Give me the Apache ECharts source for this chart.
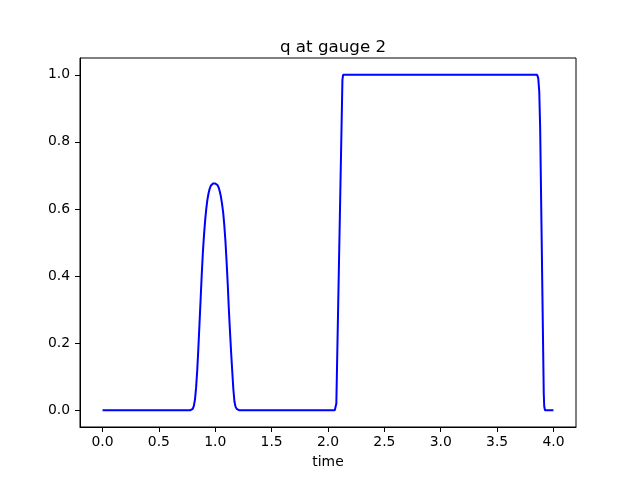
<!DOCTYPE html>
<html><head><meta charset="utf-8">
<script src="https://cdn.jsdelivr.net/npm/echarts@6/dist/echarts.min.js"></script>
<style>html,body{margin:0;padding:0;background:#fff}#c{width:640px;height:480px}</style>
</head><body><div id="c"></div>
<script>
const titleText = 'q at gauge 2';
const xName = 'time';
const xTicks = [0, 0.5, 1.0, 1.5, 2.0, 2.5, 3.0, 3.5, 4.0];
const yTicks = [0, 0.2, 0.4, 0.6, 0.8, 1.0];
const tValues = [0.0, 0.5, 0.78, 0.79, 0.80, 0.81, 0.82, 0.83, 0.84, 0.85, 0.86, 0.87, 0.88, 0.89, 0.90, 0.91, 0.92, 0.93, 0.94, 0.95, 0.96, 0.97, 0.98, 0.99, 1.00, 1.01, 1.02, 1.03, 1.04, 1.05, 1.06, 1.07, 1.08, 1.09, 1.10, 1.11, 1.12, 1.13, 1.14, 1.15, 1.16, 1.17, 1.18, 1.19, 1.20, 1.21, 1.5, 2.06, 2.068, 2.074, 2.128, 2.134, 2.5, 3.0, 3.5, 3.855, 3.865, 3.874, 3.882, 3.914, 3.918, 3.925, 3.95, 4.0];
const qValues = [0.0, 0.0, 0.0, 0.001, 0.004, 0.013, 0.032, 0.068, 0.119, 0.185, 0.258, 0.330, 0.405, 0.470, 0.522, 0.565, 0.600, 0.627, 0.646, 0.660, 0.669, 0.674, 0.676, 0.676, 0.676, 0.675, 0.671, 0.664, 0.652, 0.637, 0.615, 0.590, 0.552, 0.505, 0.445, 0.380, 0.304, 0.238, 0.176, 0.119, 0.064, 0.026, 0.010, 0.004, 0.001, 0.0, 0.0, 0.0, 0.002, 0.02, 0.985, 1.0, 1.0, 1.0, 1.0, 1.0, 0.99, 0.95, 0.843, 0.05, 0.012, 0.0, 0.0, 0.0];
const font = 'DejaVu Sans';
const chart = echarts.init(document.getElementById('c'), null, {renderer: 'canvas'});
chart.setOption({
  animation: false,
  backgroundColor: '#fff',
  title: {text: titleText, left: 328, top: 34, textAlign: 'center',
    textStyle: {fontFamily: font, fontSize: 16.7, fontWeight: 'normal', color: '#000'}},
  grid: {left: 80, right: 64, top: 58, bottom: 53, show: true, borderColor: '#000', borderWidth: 1, backgroundColor: 'transparent'},
  xAxis: {type: 'value', min: -0.2, max: 4.2, name: xName, nameLocation: 'middle', nameGap: 28,
    nameTextStyle: {fontFamily: font, fontSize: 13.9, color: '#000'},
    axisLine: {show: true, onZero: false, lineStyle: {color: '#000', width: 1}},
    axisTick: {show: true, length: 5, inside: false, customValues: xTicks, lineStyle: {color: '#000', width: 1}},
    axisLabel: {customValues: xTicks, margin: 8, fontFamily: font, fontSize: 13.9, color: '#000', formatter: v => v.toFixed(1)},
    splitLine: {show: false}},
  yAxis: {type: 'value', min: -0.05, max: 1.05,
    axisLine: {show: true, onZero: false, lineStyle: {color: '#000', width: 1}},
    axisTick: {show: true, length: 5, inside: false, customValues: yTicks, lineStyle: {color: '#000', width: 1}},
    axisLabel: {customValues: yTicks, margin: 10, fontFamily: font, fontSize: 13.9, color: '#000', formatter: v => v.toFixed(1)},
    splitLine: {show: false}},
  series: [{type: 'line', data: tValues.map((t, i) => [t, qValues[i]]), showSymbol: false, smooth: false,
    lineStyle: {color: '#0000ff', width: 2}, itemStyle: {color: '#0000ff'}}]
});
</script></body></html>
